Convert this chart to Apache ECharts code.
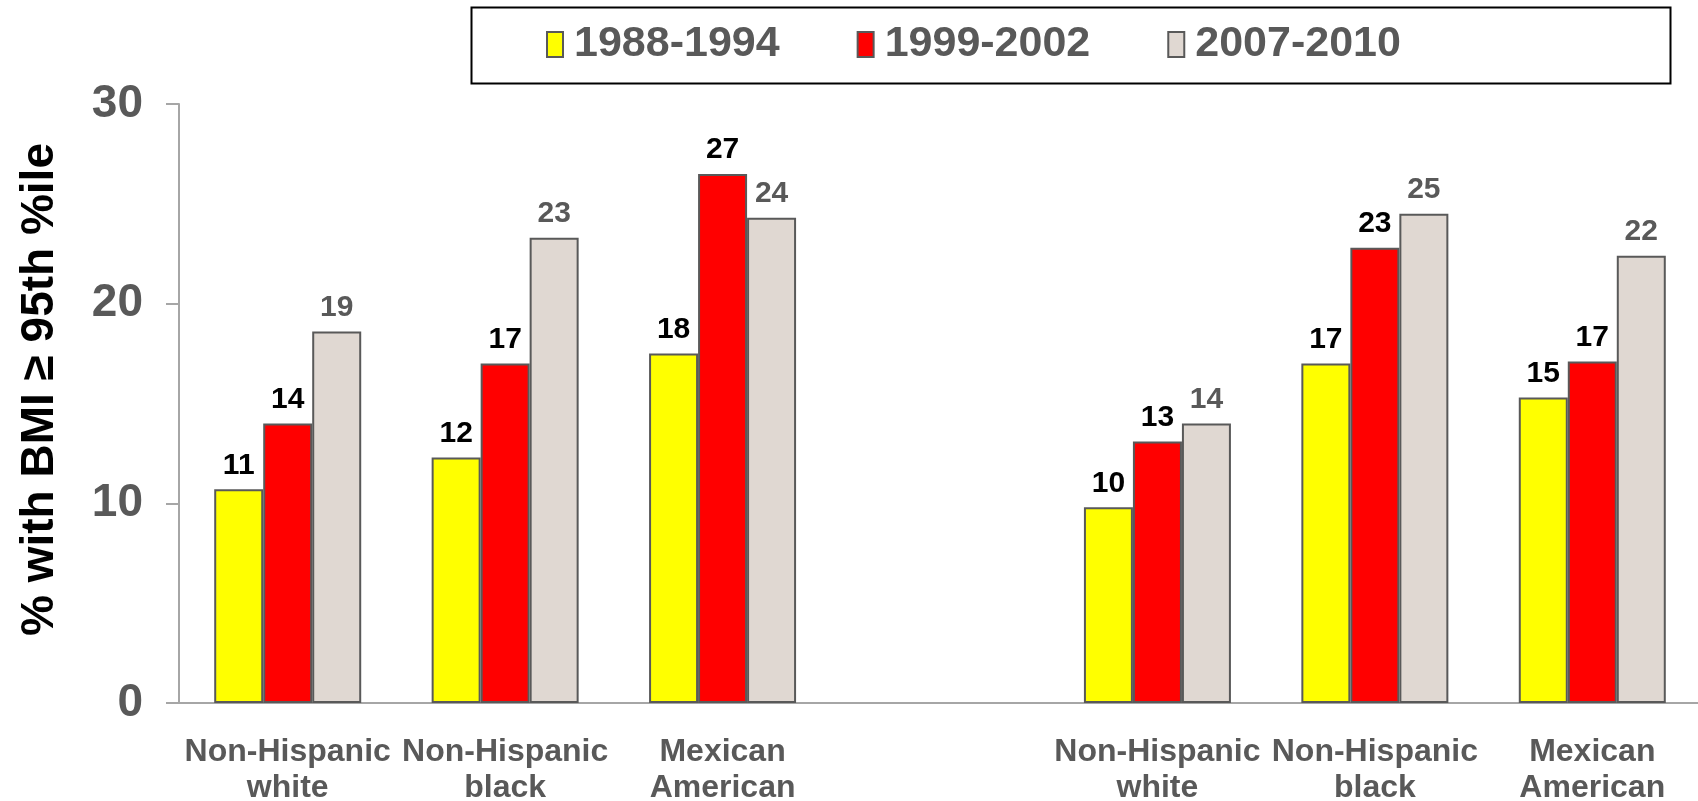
<!DOCTYPE html>
<html>
<head>
<meta charset="utf-8">
<title>BMI >= 95th percentile</title>
<script src="https://cdn.jsdelivr.net/npm/echarts@6/dist/echarts.min.js"></script>
<style>
  html, body { margin: 0; padding: 0; background: #fff; }
  #chart { width: 1698px; height: 801px; }
</style>
</head>
<body>
<div id="chart"></div>
<script>
// categories (the empty one is the gap between the two panels)
const categories = [
  'Non-Hispanic\nwhite', 'Non-Hispanic\nblack', 'Mexican\nAmerican',
  '',
  'Non-Hispanic\nwhite', 'Non-Hispanic\nblack', 'Mexican\nAmerican'
]
const seriesNames = ['1988-1994', '1999-2002', '2007-2010']

// % with BMI >= 95th percentile
const s1988 = [10.7, 12.3, 17.5, '-', 9.8, 17.0, 15.3]
const s1999 = [14.0, 17.0, 26.5, '-', 13.1, 22.8, 17.1]
const s2007 = [18.6, 23.3, 24.3, '-', 14.0, 24.5, 22.4]

const yTicks = { min: 0, max: 30, interval: 10 }

const colors = ['#ffff00', '#ff0000', '#e0d8d2']
const labelColors = ['#000000', '#000000', '#595959']
const FONT = 'Liberation Sans, Arial, sans-serif'

const chart = echarts.init(document.getElementById('chart'))

const makeSeries = (name, data, i) => ({
  name: name,
  type: 'bar',
  data: data,
  barWidth: 49,
  barGap: '0%',
  itemStyle: {
    color: colors[i],
    borderColor: '#595959',
    borderWidth: 2
  },
  label: {
    show: true,
    position: 'top',
    distance: 9,
    color: labelColors[i],
    fontFamily: FONT,
    fontWeight: 'bold',
    fontSize: 30,
    formatter: (p) => Math.round(p.value)
  },
  emphasis: { disabled: true },
  animation: false
})

chart.setOption({
  backgroundColor: '#ffffff',
  grid: {
    left: 179,
    right: -3,
    top: 104,
    bottom: 98,
    outerBoundsMode: 'none'
  },
  legend: {
    left: 541,
    top: 18,
    itemWidth: 16,
    itemHeight: 25,
    itemGap: 77,
    icon: 'rect',
    itemStyle: { borderColor: '#595959', borderWidth: 2 },
    textStyle: {
      color: '#595959',
      fontFamily: FONT,
      fontWeight: 'bold',
      fontSize: 43,
      padding: [0, 0, 0, 6]
    },
    data: seriesNames
  },
  graphic: [
    {
      type: 'rect',
      left: 469,
      top: 5,
      shape: { width: 1199, height: 76 },
      style: { fill: 'none', stroke: '#000000', lineWidth: 2 },
      silent: true
    }
  ],
  xAxis: {
    type: 'category',
    data: categories,
    axisLine: { lineStyle: { color: '#a6a6a6', width: 2 } },
    axisTick: { show: false },
    axisLabel: {
      interval: 0,
      margin: 31,
      color: '#595959',
      fontFamily: FONT,
      fontWeight: 'bold',
      fontSize: 32,
      lineHeight: 36
    }
  },
  yAxis: {
    type: 'value',
    min: yTicks.min,
    max: yTicks.max,
    interval: yTicks.interval,
    name: '% with BMI \u2265 95th %ile',
    nameLocation: 'middle',
    nameRotate: 90,
    nameGap: 116,
    nameTextStyle: {
      color: '#000000',
      fontFamily: FONT,
      fontWeight: 'bold',
      fontSize: 46,
      padding: [0, 0, 0, 28]
    },
    splitLine: { show: false },
    axisLine: { show: true, lineStyle: { color: '#a6a6a6', width: 2 } },
    axisTick: { show: true, length: 13, lineStyle: { color: '#a6a6a6', width: 2 } },
    axisLabel: {
      margin: 36,
      color: '#595959',
      fontFamily: FONT,
      fontWeight: 'bold',
      fontSize: 46
    }
  },
  series: [
    makeSeries(seriesNames[0], s1988, 0),
    makeSeries(seriesNames[1], s1999, 1),
    makeSeries(seriesNames[2], s2007, 2)
  ]
})
</script>
</body>
</html>
